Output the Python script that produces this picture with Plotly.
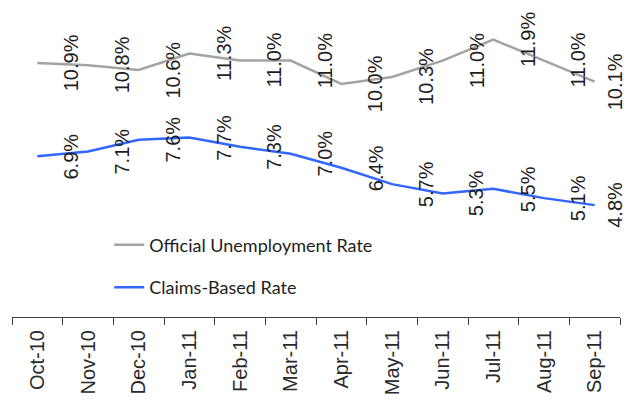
import plotly.graph_objects as go

months = ["Oct-10", "Nov-10", "Dec-10", "Jan-11", "Feb-11", "Mar-11",
          "Apr-11", "May-11", "Jun-11", "Jul-11", "Aug-11", "Sep-11"]
official_rate = [10.9, 10.8, 10.6, 11.3, 11.0, 11.0, 10.0, 10.3, 11.0, 11.9, 11.0, 10.1]
claims_rate = [6.9, 7.1, 7.6, 7.7, 7.3, 7.0, 6.4, 5.7, 5.3, 5.5, 5.1, 4.8]

GRAY = "#A3A3A3"
BLUE = "#3166FF"
TEXT = "#1E1E1E"
LABEL_FONT = "Arial, Liberation Sans, sans-serif"
LEGEND_FONT = "Lato"

fig = go.Figure()
fig.add_trace(go.Scatter(
    x=months, y=official_rate, mode="lines", name="Official Unemployment Rate",
    line=dict(color=GRAY, width=2.5), legendgroup="a", hoverinfo="skip"))
fig.add_trace(go.Scatter(
    x=months, y=claims_rate, mode="lines", name="Claims-Based Rate",
    line=dict(color=BLUE, width=2.5), legendgroup="b", hoverinfo="skip"))

# value labels, rotated and set to the right of each point
for series in (official_rate, claims_rate):
    for i, (m, v) in enumerate(zip(months, series)):
        fig.add_annotation(
            x=m, y=v, text=f"{v:.1f}%", showarrow=False, textangle=-90,
            xshift=20 if i == len(months) - 1 else 34,
            font=dict(family=LABEL_FONT, size=20, color=TEXT))

fig.update_layout(
    width=626, height=403,
    margin=dict(l=12, r=6, t=0, b=86),
    paper_bgcolor="white", plot_bgcolor="white",
    showlegend=True,
    legend=dict(x=0.16, y=0.285, xanchor="left", yanchor="top",
                bgcolor="rgba(0,0,0,0)", tracegroupgap=16,
                font=dict(family=LEGEND_FONT, size=18, color=TEXT)),
    xaxis=dict(
        type="category", range=[-0.5, len(months) - 0.5],
        tickson="boundaries", ticks="outside", ticklen=7,
        tickcolor="#404040", showline=True, linecolor="#404040", linewidth=1,
        showgrid=False, tickangle=-90, ticklabelstandoff=4,
        tickfont=dict(family=LABEL_FONT, size=20, color="#2A2A2A")),
    yaxis=dict(range=[0, 13.6], visible=False, showgrid=False, zeroline=False),
)

fig.write_html("out.html")
